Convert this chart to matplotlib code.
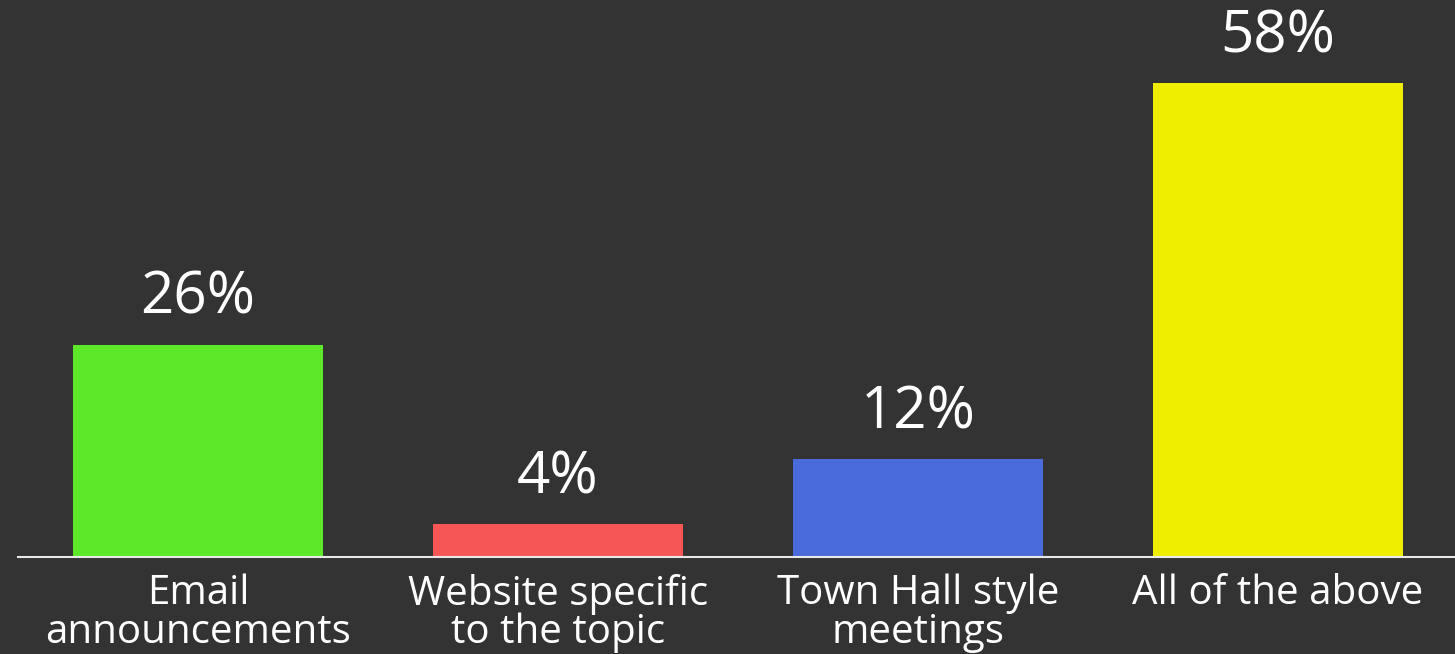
import matplotlib
matplotlib.use("Agg")
import matplotlib.pyplot as plt

categories = ["Email\nannouncements", "Website specific\nto the topic",
              "Town Hall style\nmeetings", "All of the above"]
values = [26, 4, 12, 58]
colors = ["#5de82a", "#f75656", "#4a6bdc", "#f0ee00"]
bg = "#333333"

plt.rcParams["font.family"] = ["Open Sans", "DejaVu Sans"]

W, H = 1455, 654
fig = plt.figure(figsize=(W / 100, H / 100), dpi=100, facecolor=bg)
base_px = 557
ax = fig.add_axes([18 / W, (H - base_px) / H, 1440 / W, base_px / H])
ax.set_facecolor(bg)

x = range(len(values))
bars = ax.bar(x, values, width=0.694, color=colors)
ax.set_xlim(-0.5, 3.5)
ax.set_ylim(0, 58 * base_px / (base_px - 83))

for b, v in zip(bars, values):
    ax.annotate(f"{v}%", (b.get_x() + b.get_width() / 2, v),
                xytext=(0, 12), textcoords="offset points",
                ha="center", va="bottom", color="white", fontsize=42)

for s in ["top", "right", "left"]:
    ax.spines[s].set_visible(False)
ax.spines["bottom"].set_color("#e8e8e8")
ax.spines["bottom"].set_linewidth(1.5)
ax.set_yticks([])
ax.set_xticks(list(x))
ax.set_xticklabels(categories, color="white", fontsize=29, linespacing=0.93)
ax.tick_params(axis="x", length=0, pad=12)

fig.savefig("out.png", dpi=100, facecolor=bg)
